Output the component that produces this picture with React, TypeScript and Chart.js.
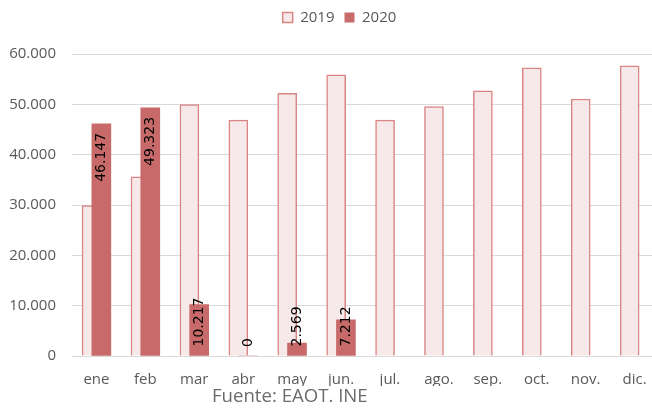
import { useEffect, useRef } from "react";
import { Chart, registerables } from "chart.js";

Chart.register(...registerables);

const months = ["ene", "feb", "mar", "abr", "may", "jun.", "jul.", "ago.", "sep.", "oct.", "nov.", "dic."];
const seriesNames = ["2019", "2020"];
const values2019 = [29900, 35600, 50000, 46900, 52200, 55900, 46900, 49600, 52700, 57300, 51100, 57700];
const values2020: (number | null)[] = [46147, 49323, 10217, 0, 2569, 7212, null, null, null, null, null, null];
const yMax = 60000;
const yStep = 10000;
const sourceText = "Fuente: EAOT. INE";

const BAR_SHIFT = 0.1;
const LEGEND_SHIFT = 10;
const TICK_COLOR = "#595959";
const UI_FONT = "'Open Sans', sans-serif";

function fmt(v: number): string {
  return String(Math.round(v)).replace(/\B(?=(\d{3})+(?!\d))/g, ".");
}

const legendShift = {
  id: "legendShift",
  afterLayout(chart: any) {
    if (chart.legend) {
      chart.legend.left += LEGEND_SHIFT;
      chart.legend.right += LEGEND_SHIFT;
    }
  },
};

const valueLabels = {
  id: "valueLabels",
  afterDatasetsDraw(chart: any) {
    const meta = chart.getDatasetMeta(1);
    const ctx = chart.ctx;
    ctx.save();
    ctx.font = '14px "DejaVu Sans"';
    ctx.fillStyle = "#000000";
    ctx.textBaseline = "middle";
    ctx.textAlign = "left";
    meta.data.forEach((bar: any, i: number) => {
      const v = values2020[i];
      if (v == null) return;
      const text = fmt(v);
      const w = ctx.measureText(text).width;
      const p = bar.getProps(["x", "y", "base"], true);
      const pad = 9;
      let top: number;
      if (p.base - p.y >= w + 2 * pad) top = p.y + pad;
      else top = p.base - pad - w;
      ctx.save();
      ctx.translate(p.x, top + w);
      ctx.rotate(-Math.PI / 2);
      ctx.fillText(text, 0, 0);
      ctx.restore();
    });
    ctx.restore();
  },
};

export default function App() {
  const ref = useRef<HTMLCanvasElement>(null);

  useEffect(() => {
    if (!ref.current) return;
    const chart = new Chart(ref.current, {
      type: "bar",
      data: {
        datasets: [
          {
            label: seriesNames[0],
            data: values2019.map((v, i) => ({ x: i - BAR_SHIFT, y: v })),
            backgroundColor: "#F7E9E9",
            borderColor: "#DA8585",
            borderWidth: 1.5,
            borderSkipped: "bottom",
            barThickness: 19,
            grouped: false,
            order: 1,
          },
          {
            label: seriesNames[1],
            data: values2020.map((v, i) => ({ x: i + BAR_SHIFT, y: v })),
            backgroundColor: "#C86A6A",
            borderColor: "#C86A6A",
            borderWidth: 0,
            barThickness: 19,
            grouped: false,
            order: 0,
          },
        ] as any,
      },
      options: {
        animation: false,
        responsive: true,
        maintainAspectRatio: false,
        layout: { padding: { left: 0, right: 3, top: 0, bottom: 26 } },
        plugins: {
          legend: {
            position: "top",
            labels: {
              boxWidth: 10,
              boxHeight: 10,
              padding: 10,
              color: TICK_COLOR,
              font: { family: UI_FONT, size: 15 },
              sort: (a: any, b: any) => a.datasetIndex - b.datasetIndex,
            },
          },
          tooltip: { enabled: false },
          title: {
            display: true,
            text: "",
            weight: 500,
            padding: 0,
            font: { size: 16 },
          } as any,
        },
        scales: {
          x: {
            type: "linear",
            min: -0.5,
            max: 11.5,
            offset: false,
            afterBuildTicks: (scale: any) => {
              scale.ticks = months.map((_, i) => ({ value: i }));
            },
            afterFit: (scale: any) => {
              scale.height = 30;
            },
            grid: { display: false, drawTicks: false },
            border: { display: false },
            ticks: {
              padding: 15,
              color: TICK_COLOR,
              font: { family: UI_FONT, size: 15 },
              maxRotation: 0,
              autoSkip: false,
              callback: (v: any) => months[Math.round(Number(v))] ?? "",
            },
          },
          y: {
            min: 0,
            max: yMax,
            afterFit: (scale: any) => {
              scale.width = 72;
            },
            grid: { color: "#D9D9D9", lineWidth: 1, drawTicks: false },
            border: { display: false },
            ticks: {
              stepSize: yStep,
              padding: 16,
              color: TICK_COLOR,
              font: { family: UI_FONT, size: 15 },
              callback: (v: any) => fmt(Number(v)),
            },
          },
        },
      },
      plugins: [valueLabels, legendShift],
    });
    return () => chart.destroy();
  }, []);

  return (
    <div style={{ position: "absolute", left: 0, top: 0, width: 652, height: 412, overflow: "hidden", background: "#fff" }}>
      <div style={{ position: "absolute", left: 0, top: 0, width: 662, height: 412 }}>
        <canvas ref={ref} />
      </div>
      <div
        style={{
          position: "absolute",
          left: 212,
          top: 383,
          fontFamily: UI_FONT,
          fontSize: 18.6,
          lineHeight: "24px",
          color: "#6B6B6B",
          whiteSpace: "nowrap",
        }}
      >
        {sourceText}
      </div>
    </div>
  );
}
